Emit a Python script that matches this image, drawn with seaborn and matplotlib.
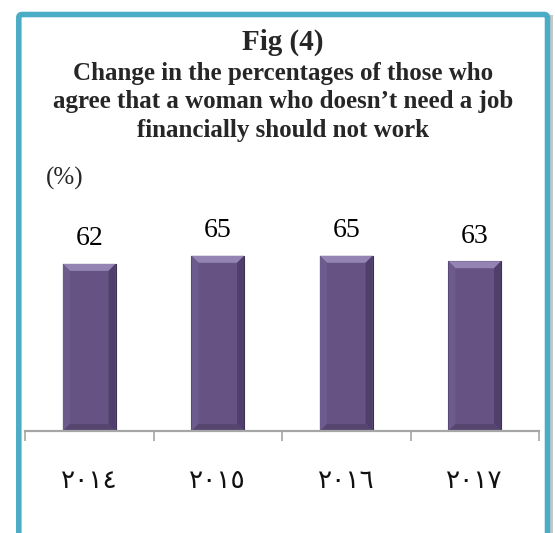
import pandas as pd
import matplotlib.pyplot as plt
import seaborn as sns
from matplotlib.patches import Rectangle, Polygon, FancyBboxPatch

# DATA
# ----
years = ["٢٠١٤", "٢٠١٥", "٢٠١٦", "٢٠١٧"]
values = [62, 65, 65, 63]

title = "Fig (4)"
subtitle_lines = ["Change in the percentages of those who",
                  "agree that a woman who doesn\u2019t need a job",
                  "financially should not work"]

df = pd.DataFrame({"year": years, "pct": values})

# FIGURE
# ------
sns.set_style("white")
W, H = 555, 533
fig = plt.figure(figsize=(W / 100, H / 100), dpi=100)

# axes placed in pixel terms: baseline at y=431, top at y=200
ax = fig.add_axes([25 / W, (H - 431) / H, (539 - 25) / W, (431 - 200) / H])

sns.barplot(x="year", y="pct", data=df, color="#665384", width=0.41,
            edgecolor="#3E2F57", linewidth=0.8, saturation=1, ax=ax)
ax.set_ylim(0, 85.7)
ax.set_xlim(-0.5, len(years) - 0.5)

# bevel look on each bar, built from the bar patches
px_x = (539 - 25) / len(years)      # pixels per x unit
px_y = (431 - 200) / 85.7           # pixels per y unit
b = 7
dx, dy = b / px_x, b / px_y
for p in ax.patches:
    x0, w, h = p.get_x(), p.get_width(), p.get_height()
    x1 = x0 + w
    faces = [
        ([(x0, h), (x1, h), (x1 - dx, h - dy), (x0 + dx, h - dy)], "#9484B3"),
        ([(x0, 0), (x0, h), (x0 + dx, h - dy), (x0 + dx, dy)], "#6E5B8E"),
        ([(x1, 0), (x1, h), (x1 - dx, h - dy), (x1 - dx, dy)], "#4F3F6B"),
        ([(x0, 0), (x1, 0), (x1 - dx, dy), (x0 + dx, dy)], "#56456F"),
    ]
    for pts, c in faces:
        ax.add_patch(Polygon(pts, closed=True, facecolor=c, edgecolor="none",
                             zorder=p.get_zorder() + 0.1))

ax.bar_label(ax.containers[0], labels=[str(v) for v in values], padding=9,
             fontsize=20, family="Liberation Serif", color="#000000")

# axis styling
for s in ["top", "left", "right"]:
    ax.spines[s].set_visible(False)
ax.spines["bottom"].set_color("#A6A6A6")
ax.spines["bottom"].set_linewidth(1.6)
ax.spines["bottom"].set_zorder(5)
ax.set_yticks([])
ax.set_xlabel("")
ax.set_ylabel("")
ax.tick_params(axis="x", which="major", length=0, pad=27, labelsize=19,
               labelcolor="#111111")
for lab in ax.get_xticklabels():
    lab.set_family("DejaVu Sans")
ax.set_xticks([i - 0.5 for i in range(len(years) + 1)], minor=True)
ax.tick_params(axis="x", which="minor", bottom=True, length=7.5, width=1.2,
               color="#A6A6A6", direction="out")

# TEXT
# ----
fig.text(283 / W, 1 - 50 / H, title, ha="center", va="baseline",
         fontsize=21, fontweight="bold", family="Liberation Serif")
for line, base in zip(subtitle_lines, [80, 108, 137]):
    fig.text(283 / W, 1 - base / H, line, ha="center", va="baseline",
             fontsize=18, fontweight="bold", family="Liberation Serif")
fig.text(46 / W, 1 - 178 / H, "(%)", ha="left", va="center",
         fontsize=18, family="Liberation Serif")

# FRAME
# -----
fig.patches.append(Rectangle((550 / W, -0.1), 3 / W, 1 - 15 / H + 0.1,
                             transform=fig.transFigure, facecolor="#C8C8C8",
                             edgecolor="none"))
fig.patches.append(FancyBboxPatch((18.8 / W, -0.1), (547.5 - 18.8) / W,
                                  1 - 14.5 / H + 0.1,
                                  boxstyle="round,pad=0,rounding_size=0.006",
                                  transform=fig.transFigure, facecolor="none",
                                  edgecolor="#4BACC6", linewidth=4.0))

plt.savefig("out.png", dpi=100)
